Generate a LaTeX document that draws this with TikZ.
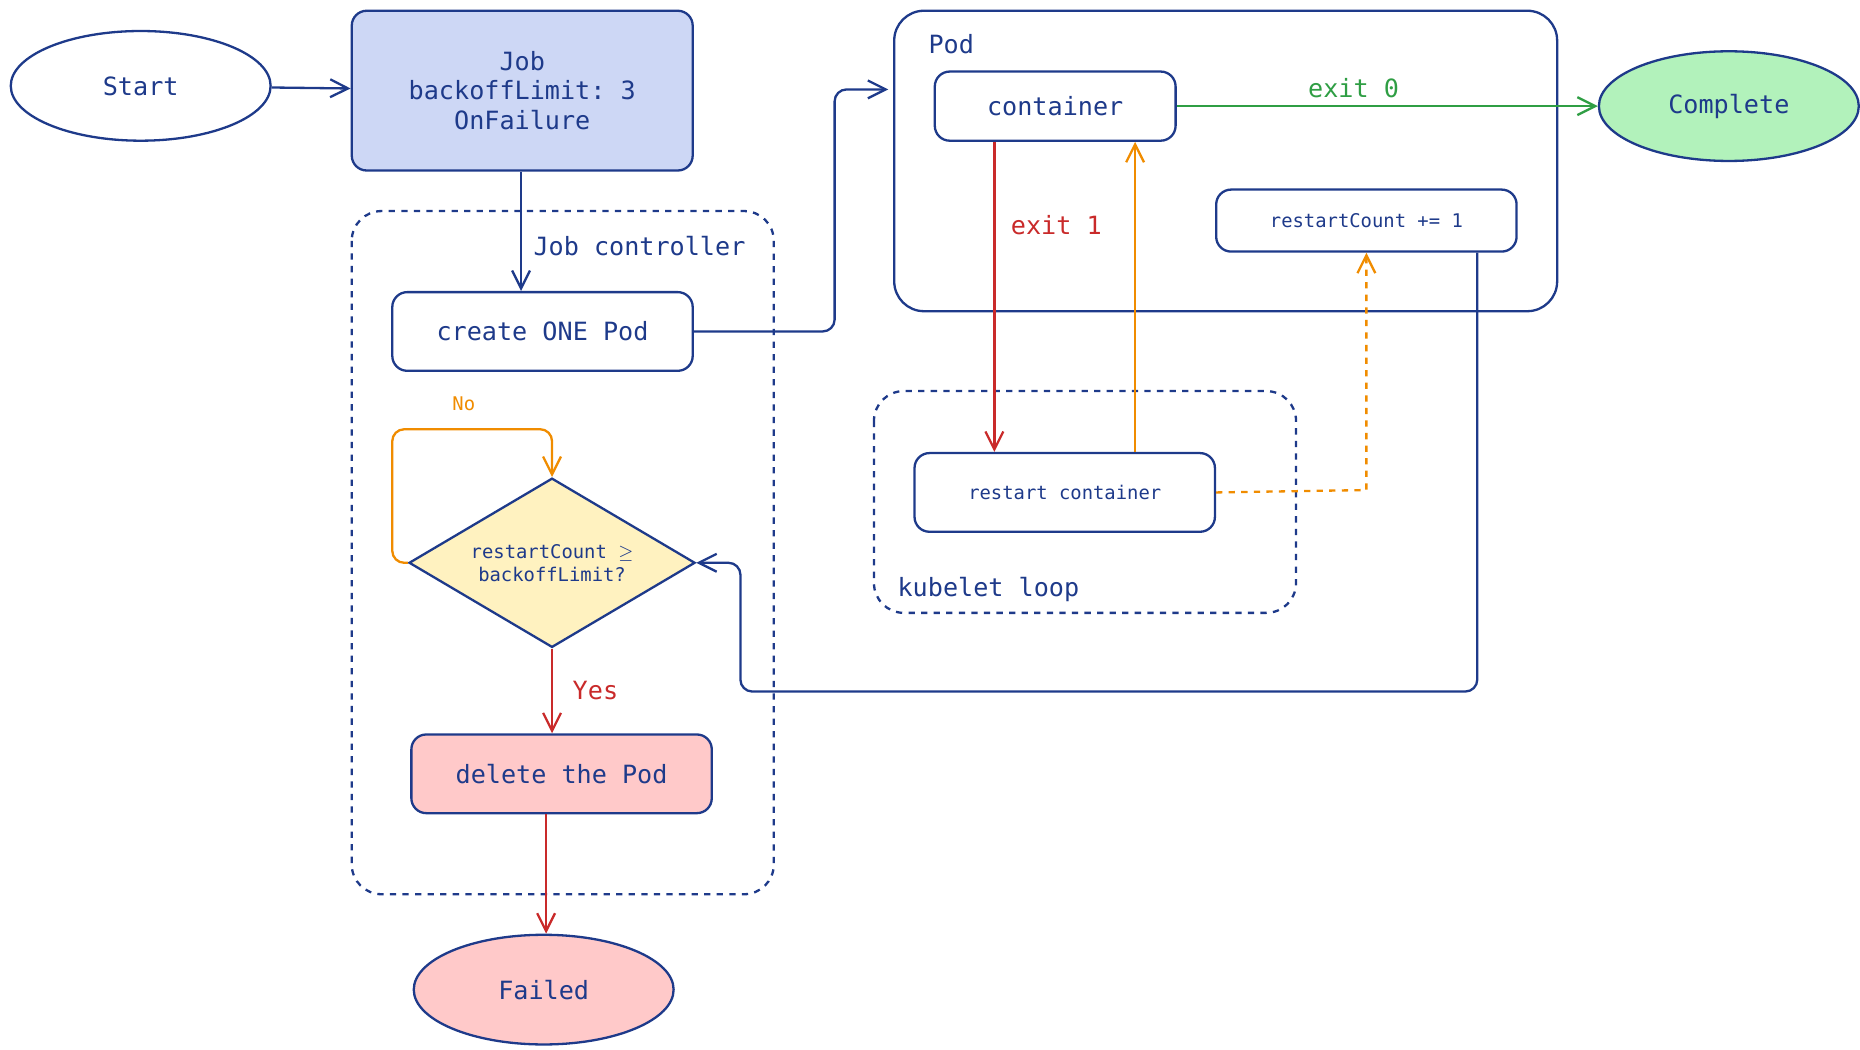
\documentclass[tikz,border=0pt]{standalone}
\usepackage{fontspec}
\setmonofont{DejaVu Sans Mono}
\usetikzlibrary{arrows.meta, positioning, shapes.geometric}
\definecolor{navy}{HTML}{1E3A8A}
\definecolor{jobblue}{HTML}{CDD7F5}
\definecolor{failred}{HTML}{FFC9C9}
\definecolor{okgreen}{HTML}{B2F2BB}
\definecolor{askyellow}{HTML}{FFF2C0}
\definecolor{linered}{HTML}{C92A2A}
\definecolor{lineorange}{HTML}{F08C00}
\definecolor{linegreen}{HTML}{2F9E44}
\begin{document}
\begin{tikzpicture}[x=0.02cm, y=-0.02cm, font=\ttfamily, text=navy, line width=1.1pt]
\tikzset{box/.style={rectangle, draw=navy, rounded corners=2.5mm, align=center, minimum width=5.04cm, minimum height=1.32cm},
		term/.style={ellipse, draw=navy, minimum width=4.36cm, minimum height=1.84cm},
		frame/.style={draw=navy, dashed, rounded corners=5mm},
		arr/.style={-{Straight Barb[length=3mm, width=3mm]}}}
\useasboundingbox (0,0) rectangle (1560,880);
% frames
\draw[frame] (295,177) rectangle (649,750);
\node[anchor=east, font=\ttfamily\large] (JCL) at (632,206) {Job controller};
\draw[navy, rounded corners=5mm] (750,9) rectangle (1306,261);
\node[anchor=west, font=\ttfamily\large] (PodL) at (772,37) {Pod};
\draw[frame] (733,328) rectangle (1087,514);
\node[anchor=west, font=\ttfamily\large] (KLL) at (746,494) {kubelet loop};
% nodes
\node[term, font=\ttfamily\large] (Start) at (118,72) {Start};
\node[box, fill=jobblue, minimum width=5.72cm, minimum height=2.68cm, font=\ttfamily\large] (Job) at (438,76) {Job\\backoffLimit: 3\\OnFailure};
\node[box, font=\ttfamily\large] (Create) at (455,278) {create ONE Pod};
\node[diamond, draw=navy, fill=askyellow, aspect=1.7, minimum width=4.8cm, minimum height=2.84cm, align=center, inner sep=0pt, font=\ttfamily\small] (Check) at (463,472) {restartCount $\geq$\\backoffLimit?};
\node[box, fill=failred, font=\ttfamily\large] (Delete) at (471,649) {delete the Pod};
\node[term, fill=failred, font=\ttfamily\large] (Failed) at (456,830) {Failed};
\node[box, minimum width=4.04cm, minimum height=1.16cm, font=\ttfamily\large] (Cont) at (885,89) {container};
\node[box, minimum height=1.04cm, font=\ttfamily\small] (Count) at (1146,185) {restartCount += 1};
\node[box, font=\ttfamily\small] (Restart) at (893,413) {restart container};
\node[term, fill=okgreen, font=\ttfamily\large] (Complete) at (1450,89) {Complete};
% connectors
\draw[arr, navy] (Start) -- (Job);
\draw[arr, navy] (Job.south -| 437,0) -- (Create.north -| 437,0);
\draw[arr, navy, rounded corners=2mm] (Create.east) -- (700,278) -- (700,75) -- (745,75);
\draw[arr, linegreen] (Cont) -- node[above, pos=0.42, text=linegreen, font=\ttfamily\large] {exit 0} (Complete);
\draw[arr, linered] (Cont.south -| 834,0) -- node[pos=0.27, right=4pt, text=linered, font=\ttfamily\large] {exit 1} (Restart.north -| 834,0);
\draw[arr, lineorange] (Restart.north -| 952,0) -- (Cont.south -| 952,0);
\draw[arr, lineorange, dashed] (Restart.east) -- (1146,411) -- (Count.south);
\draw[arr, navy, rounded corners=2mm] (Count.south -| 1239,0) -- (1239,580) -- (621,580) -- (621,472) -- (Check.east);
\draw[arr, lineorange, rounded corners=2mm] (Check.west) -- (329,472) -- (329,360) -- (463,360) -- (Check.north);
\node[text=lineorange, font=\ttfamily\small] (NoL) at (389,339) {No};
\draw[arr, linered] (Check.south) -- node[right=6pt, text=linered, font=\ttfamily\large] {Yes} (Delete.north -| Check.south);
\draw[arr, linered] (Delete.south -| 458,0) -- (Failed.north -| 458,0);
\end{tikzpicture}
\end{document}
